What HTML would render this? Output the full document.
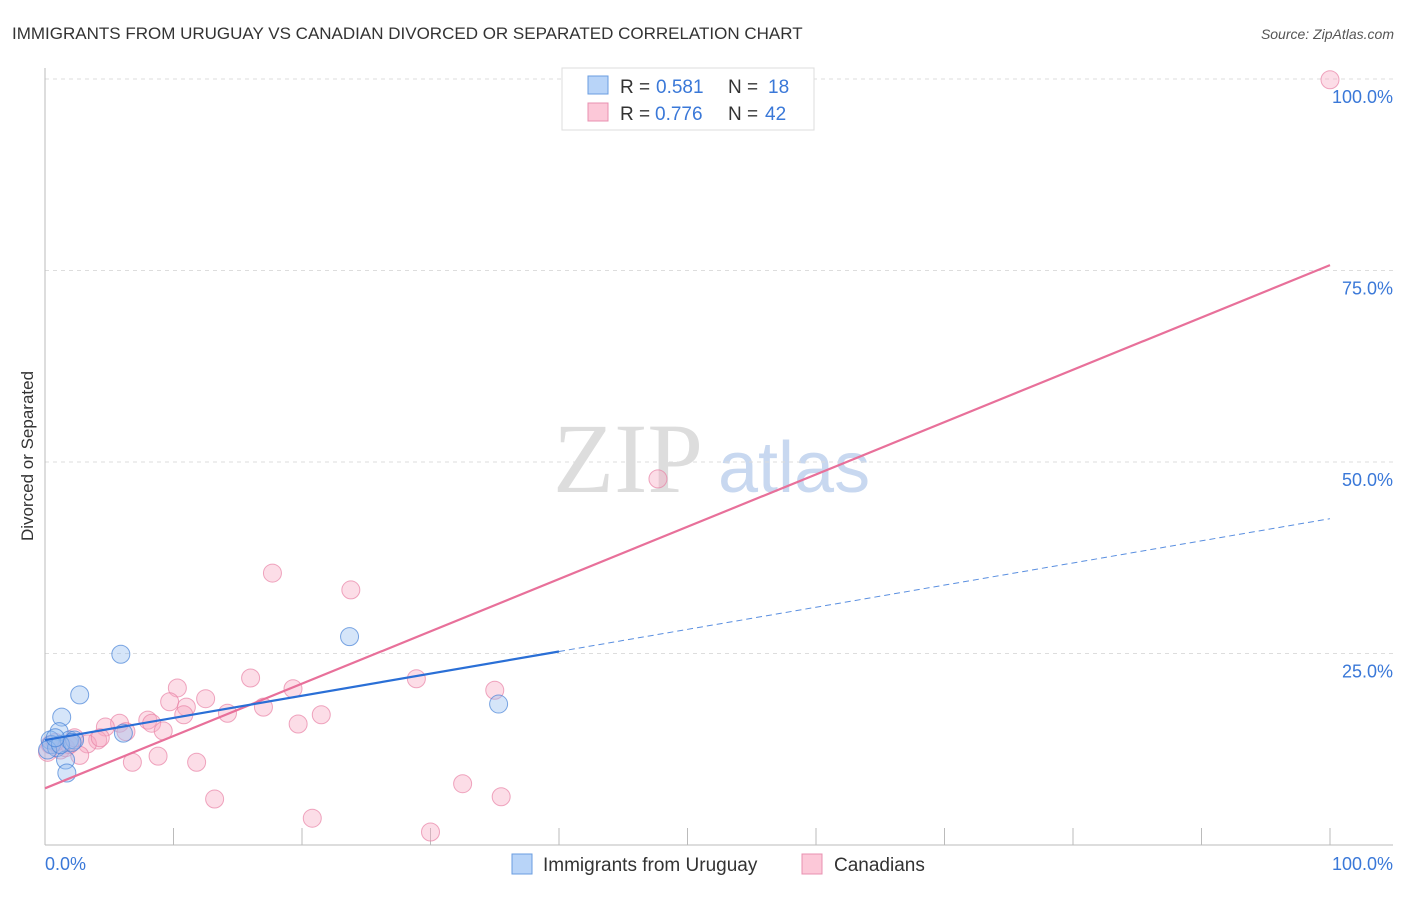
<!DOCTYPE html><html><head><meta charset="utf-8"><style>
body{margin:0;background:#fff;font-family:"Liberation Sans",sans-serif}
svg text{font-family:"Liberation Sans",sans-serif}
</style></head><body>
<svg width="1406" height="892" id="c">
<text x="12" y="39" font-size="17" fill="#333">IMMIGRANTS FROM URUGUAY VS CANADIAN DIVORCED OR SEPARATED CORRELATION CHART</text>
<text x="1394" y="39" font-size="14" fill="#555" font-style="italic" text-anchor="end">Source: ZipAtlas.com</text>
<text x="33" y="456" font-size="17" fill="#333" text-anchor="middle" transform="rotate(-90 33 456)">Divorced or Separated</text>
<text x="553" y="492" font-size="100" fill="#ddd" font-family="Liberation Serif" style="font-family:'Liberation Serif',serif">ZIP</text>
<text x="718" y="492" font-size="72" fill="#c8d8f0">atlas</text>
<g id="grid"></g><g id="marks"></g>
<g>
<rect x="562" y="68" width="252" height="62" fill="#fff" stroke="#ddd"/>
<rect x="588" y="76" width="20" height="18" fill="#b8d4f8" stroke="#6a9de0"/>
<rect x="588" y="103" width="20" height="18" fill="#fcc8d8" stroke="#e890b0"/>
<text x="620" y="93" font-size="19" fill="#333">R =</text><text x="656" y="93" font-size="19" fill="#3a78d8">0.581</text>
<text x="728" y="93" font-size="19" fill="#333">N =</text><text x="768" y="93" font-size="19" fill="#3a78d8">18</text>
<text x="620" y="120" font-size="19" fill="#333">R =</text><text x="655" y="120" font-size="19" fill="#3a78d8">0.776</text>
<text x="728" y="120" font-size="19" fill="#333">N =</text><text x="765" y="120" font-size="19" fill="#3a78d8">42</text>
</g>
<g>
<rect x="512" y="854" width="20" height="20" fill="#b8d4f8" stroke="#6a9de0"/>
<text x="543" y="871" font-size="19" fill="#333">Immigrants from Uruguay</text>
<rect x="802" y="854" width="20" height="20" fill="#fcc8d8" stroke="#e890b0"/>
<text x="834" y="871" font-size="19" fill="#333">Canadians</text>
</g>
</svg>
<script>
const blueX=[5.9,2.7,1.3,1.1,0.4,0.5,0.9,1.9,2.3,1.6,1.7,6.1,23.7,35.3,0.2,1.2,2.1,0.8];
const blueY=[24.9,19.6,16.7,14.8,13.7,13.1,12.7,13.7,13.7,11.1,9.4,14.6,27.2,18.4,12.4,13.1,13.4,14.0];
const pinkX=[100,47.7,17.7,23.8,16.0,28.9,35.0,10.3,12.5,19.3,9.7,11.0,10.8,14.2,17.0,21.5,19.7,8.0,8.3,5.8,4.7,9.2,6.3,4.1,3.3,4.3,6.8,8.8,11.8,13.2,32.5,35.5,20.8,30.0,2.7,1.2,0.4,0.2,1.6,0.8,1.9,2.3];
const pinkY=[99.9,47.8,35.5,33.3,21.8,21.7,20.2,20.5,19.1,20.4,18.7,18.0,17.0,17.2,18.0,17.0,15.8,16.3,15.9,15.9,15.4,14.9,14.8,13.7,13.2,14.0,10.8,11.6,10.8,6.0,8.0,6.3,3.5,1.7,11.7,12.4,13.1,12.1,12.7,13.4,13.1,14.0];
const yTicks=[25,50,75,100];
const xTickVals=[10,20,30,40,50,60,70,80,90,100];
const blueTrend=[13.7,42.6], blueSolidEnd=40;
const pinkTrend=[7.4,75.7];
const X=v=>45+v*12.85, Y=v=>845-v*7.66;
const NS="http://www.w3.org/2000/svg";
function mk(p,t,a){const e=document.createElementNS(NS,t);for(const k in a)e.setAttribute(k,a[k]);p.appendChild(e);return e;}
const g=document.getElementById('grid'),m=document.getElementById('marks');
yTicks.forEach(v=>{const l=mk(g,'line',{x1:45,x2:1393,y1:Y(v),y2:Y(v),stroke:'#ddd','stroke-dasharray':'4,4'});


const t=mk(g,'text',{x:1393,y:Y(v)+24,'font-size':18,fill:'#3a78d8','text-anchor':'end'});t.textContent=v.toFixed(1)+'%';

});
mk(g,'line',{x1:45,x2:45,y1:68,y2:845,stroke:'#bbb'});
mk(g,'line',{x1:45,x2:1393,y1:845,y2:845,stroke:'#bbb'});
xTickVals.forEach(v=>{const l=mk(g,'line',{x1:X(v),x2:X(v),y1:828,y2:845,stroke:'#bbb'});

});
let t0=mk(g,'text',{x:45,y:870,'font-size':18,fill:'#3a78d8'});t0.textContent='0.0%';


let t1=mk(g,'text',{x:1393,y:870,'font-size':18,fill:'#3a78d8','text-anchor':'end'});t1.textContent='100.0%';


pinkX.forEach((x,i)=>{const c=mk(m,'circle',{cx:X(x),cy:Y(pinkY[i]),r:9,fill:'rgba(248,170,195,0.4)',stroke:'rgba(232,130,165,0.7)','stroke-width':1});

});
blueX.forEach((x,i)=>{const c=mk(m,'circle',{cx:X(x),cy:Y(blueY[i]),r:9,fill:'rgba(150,190,240,0.4)',stroke:'rgba(70,130,215,0.7)','stroke-width':1});

});
const bAt=v=>blueTrend[0]+(blueTrend[1]-blueTrend[0])*v/100;
let l1=mk(m,'line',{x1:X(0),y1:Y(pinkTrend[0]),x2:X(100),y2:Y(pinkTrend[1]),stroke:'#e8709a','stroke-width':2.2});


let l2=mk(m,'line',{x1:X(0),y1:Y(bAt(0)),x2:X(blueSolidEnd),y2:Y(bAt(blueSolidEnd)),stroke:'#2a6fd6','stroke-width':2.2});


let l3=mk(m,'line',{x1:X(blueSolidEnd),y1:Y(bAt(blueSolidEnd)),x2:X(100),y2:Y(bAt(100)),stroke:'#5a8fe0','stroke-width':1,'stroke-dasharray':'6,4'});


</script></body></html>
